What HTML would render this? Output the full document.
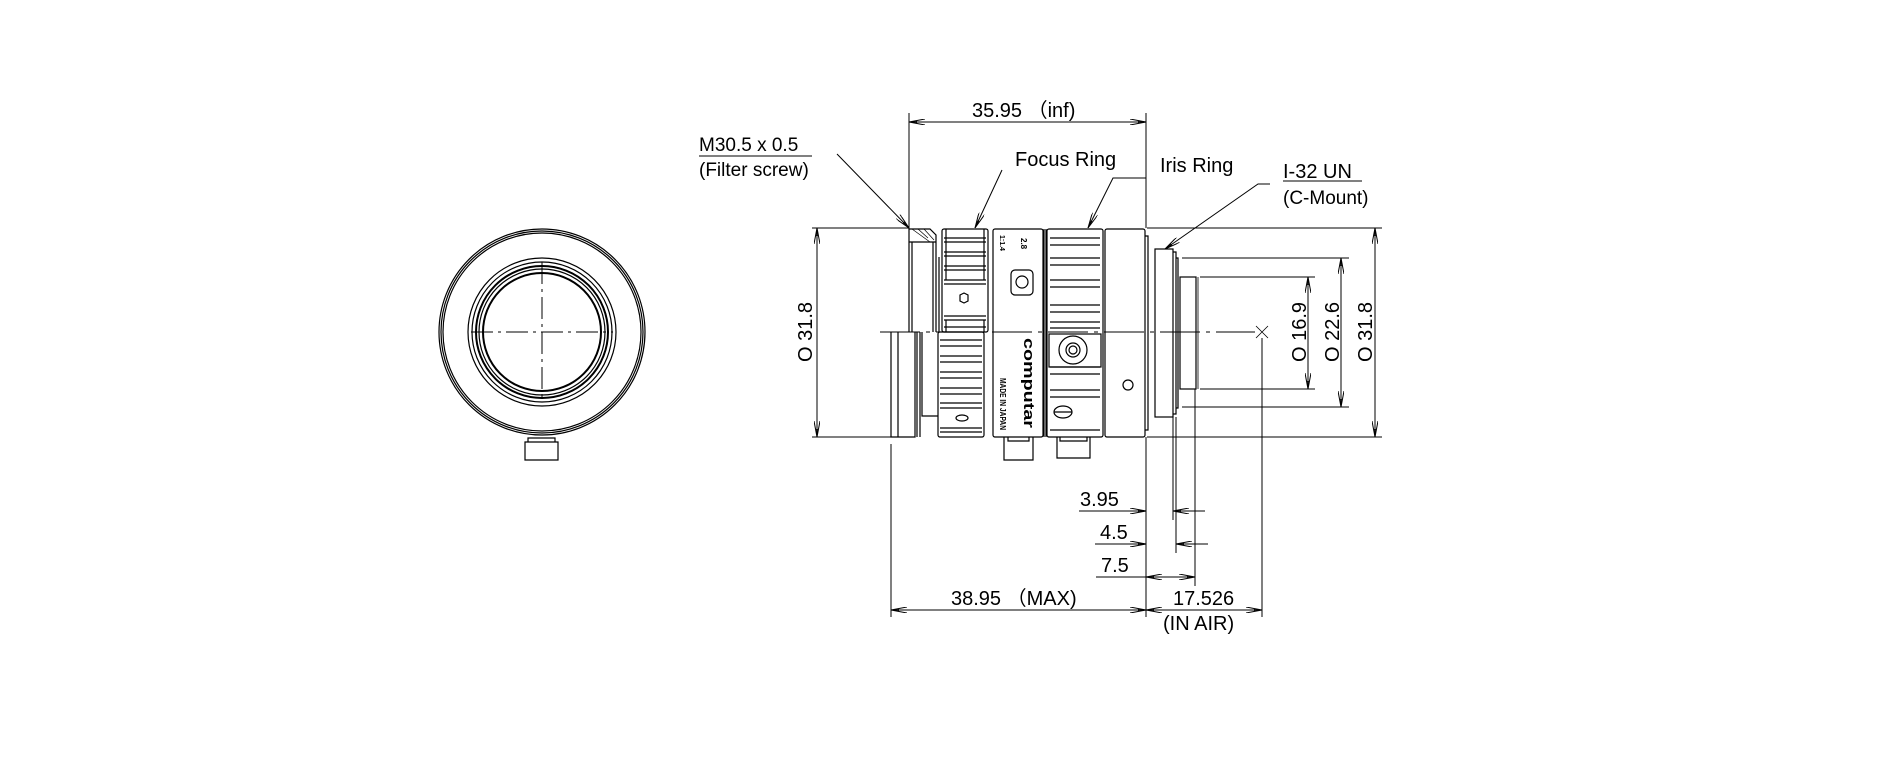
<!DOCTYPE html>
<html><head><meta charset="utf-8"><style>
html,body{margin:0;padding:0;background:#fff;}
svg{display:block;}
text{font-family:"Liberation Sans",sans-serif;fill:#000;}
</style></head><body>
<svg width="1891" height="757" viewBox="0 0 1891 757" xmlns="http://www.w3.org/2000/svg">
<defs>
<marker id="a" viewBox="0 0 16 6" refX="16" refY="3" markerWidth="16" markerHeight="6" markerUnits="userSpaceOnUse" orient="auto-start-reverse">
<path d="M0,0 L16,3 L0,6" fill="none" stroke="#000" stroke-width="1"/><path d="M8,2 L16,3 L8,4z" fill="#000"/>
</marker>
</defs>
<g fill="none" stroke="#000" stroke-width="1.2">
<circle cx="542" cy="332" r="103"/>
<circle cx="542" cy="332" r="101"/>
<circle cx="542" cy="332" r="99"/>
<circle cx="542" cy="332" r="74"/>
<circle cx="542" cy="332" r="70"/>
<circle cx="542" cy="332" r="66" stroke-width="2"/>
<circle cx="542" cy="332" r="63"/>
<circle cx="542" cy="332" r="59" stroke-width="2"/>
<path d="M525,442 h33 v18 h-33z M528,438 h27 v4 h-27z"/>
<path d="M471,332 H613 M542,262 V402" stroke-dasharray="22,5,3,5" stroke-width="1"/>

<path d="M880,332 H1255" stroke-dasharray="40,6,4,6" stroke-width="1"/>
<path d="M909,229 H930 L936,235 V242 H909 Z M909,242 V332 M912,242 V332 M933,242 V332 M936,242 V332"/>
<path d="M912,229 L930,242 M918,229 L928,238 M924,229 L934,240" stroke-width="0.7"/>
<path d="M891,332 V437 H915 V332 M898,332 V437"/>
<path d="M917,332 V437 M920,332 V437 M922,332 V416 H938"/>
<rect x="942" y="229" width="46" height="103" rx="2"/>
<path d="M944,238 H986 M944,242 H986 M944,252 H986 M944,256 H986 M944,266 H986 M944,270 H986 M944,280 H986 M944,284 H986 M944,316 H986 M944,320 H986 M944,327 H986"/>
<path d="M946,229 V280 M984,229 V280 M946,320 V332 M984,320 V332"/>
<path d="M939,257 V332" />
<polygon points="960,295 964,293 968,295 968,301 964,303 960,301"/>
<rect x="938" y="332" width="46" height="105" rx="2"/>
<path d="M940,340 H982 M940,346 H982 M940,356 H982 M940,362 H982 M940,372 H982 M940,378 H982 M940,388 H982 M940,394 H982 M940,403 H982 M940,408 H982 M940,428 H982 M940,432 H982"/>
<ellipse cx="962" cy="418" rx="6" ry="3"/>
<rect x="993" y="229" width="50" height="208" rx="2"/>
<path d="M1046,229 V437 M1044,229 V437"/>
<rect x="1011" y="270" width="22" height="25" rx="4"/>
<circle cx="1022" cy="282" r="6"/>
<path d="M1004,437 V460 H1033 V437 M1008,437 V441 H1029 V437"/>
<rect x="1047" y="229" width="56" height="208" rx="2"/>
<path d="M1050,238 H1100 M1050,245 H1100 M1050,258 H1100 M1050,265 H1100 M1050,280 H1100 M1050,287 H1100 M1050,305 H1100 M1050,312 H1100 M1050,322 H1100 M1050,328 H1100 M1050,367 H1100 M1050,374 H1100 M1050,390 H1100 M1050,397 H1100 M1050,430 H1100"/>
<rect x="1049" y="334" width="52" height="33"/>
<circle cx="1073" cy="350" r="14"/><circle cx="1073" cy="350" r="7"/><circle cx="1073" cy="350" r="4"/>
<ellipse cx="1063" cy="412" rx="9" ry="6"/><path d="M1054,412 H1072"/>
<path d="M1057,437 V458 H1090 V437 M1060,437 V441 H1087 V437"/>
<rect x="1105" y="229" width="40" height="208" rx="2"/>
<path d="M1145,236 H1148 V430 H1145"/>
<circle cx="1128" cy="385" r="5"/>
<rect x="1155" y="249" width="18" height="168"/>
<path d="M1173,252 H1176 V414 H1173 M1176,258 H1178 V408 H1176"/>
<rect x="1180" y="277" width="16" height="112"/>
<path d="M1198,277 V389" stroke-width="0.8"/>
<path d="M1256,326 L1268,338 M1268,326 L1256,338" stroke-width="0.8"/>
</g>

<text transform="translate(1024,338) rotate(90)" font-size="15" font-weight="bold" textLength="90" lengthAdjust="spacingAndGlyphs">computar</text>
<text transform="translate(1000,378) rotate(90)" font-size="8" font-weight="bold" textLength="52" lengthAdjust="spacingAndGlyphs">MADE IN JAPAN</text>
<text transform="translate(1000,235) rotate(90)" font-size="7" font-weight="bold">1:1.4</text>
<text transform="translate(1021,238) rotate(90)" font-size="8" font-weight="bold">2.8</text>

<g fill="none" stroke="#000" stroke-width="1">
<path d="M909,113 V229 M1146,113 V228"/>
<path d="M909,122 H1146" marker-start="url(#a)" marker-end="url(#a)"/>
<path d="M812,228 H909 M812,437 H891"/>
<path d="M817,228 V437" marker-start="url(#a)" marker-end="url(#a)"/>
<path d="M1147,228 H1382 M1147,437 H1382 M1182,258 H1349 M1182,407 H1349 M1200,277 H1315 M1200,389 H1315"/>
<path d="M1375,228 V437" marker-start="url(#a)" marker-end="url(#a)"/>
<path d="M1341,258 V407" marker-start="url(#a)" marker-end="url(#a)"/>
<path d="M1308,277 V389" marker-start="url(#a)" marker-end="url(#a)"/>
<path d="M891,444 V617 M1146,437 V617 M1173,417 V520 M1176,417 V553 M1195,389 V586 M1262,338 V617"/>
<path d="M1079,511 H1146" marker-end="url(#a)"/>
<path d="M1173,511 H1205" marker-start="url(#a)"/>
<path d="M1095,544 H1146" marker-end="url(#a)"/>
<path d="M1176,544 H1208" marker-start="url(#a)"/>
<path d="M1096,577 H1146"/>
<path d="M1146,577 H1195" marker-start="url(#a)" marker-end="url(#a)"/>
<path d="M891,610 H1146" marker-start="url(#a)" marker-end="url(#a)"/>
<path d="M1146,610 H1262" marker-start="url(#a)" marker-end="url(#a)"/>
<path d="M837,154 L909,228" marker-end="url(#a)"/>
<path d="M1002,170 L975,228" marker-end="url(#a)"/>
<path d="M1146,178 H1113 L1088,228" marker-end="url(#a)"/>
<path d="M1270,184 H1258 L1165,249" marker-end="url(#a)"/>
<path d="M699,156 H812 M1283,181 H1362"/>
</g>

<g font-size="20">
<text x="972" y="117">35.95 （inf)</text>
<text x="1015" y="166">Focus Ring</text>
<text x="1160" y="172">Iris Ring</text>
<text x="1283" y="178">I-32 UN</text>
<text x="1283" y="204" font-size="19">(C-Mount)</text>
<text x="699" y="151" font-size="19">M30.5 x 0.5</text>
<text x="699" y="176" font-size="19">(Filter screw)</text>
<text x="1080" y="506">3.95</text>
<text x="1100" y="539">4.5</text>
<text x="1101" y="572">7.5</text>
<text x="951" y="605">38.95 （MAX)</text>
<text x="1173" y="605">17.526</text>
<text x="1163" y="630">(IN AIR)</text>
<text transform="translate(812,332) rotate(-90)" text-anchor="middle">O 31.8</text>
<text transform="translate(1306,332) rotate(-90)" text-anchor="middle">O 16.9</text>
<text transform="translate(1339,332) rotate(-90)" text-anchor="middle">O 22.6</text>
<text transform="translate(1372,332) rotate(-90)" text-anchor="middle">O 31.8</text>
</g>
</svg>
</body></html>
